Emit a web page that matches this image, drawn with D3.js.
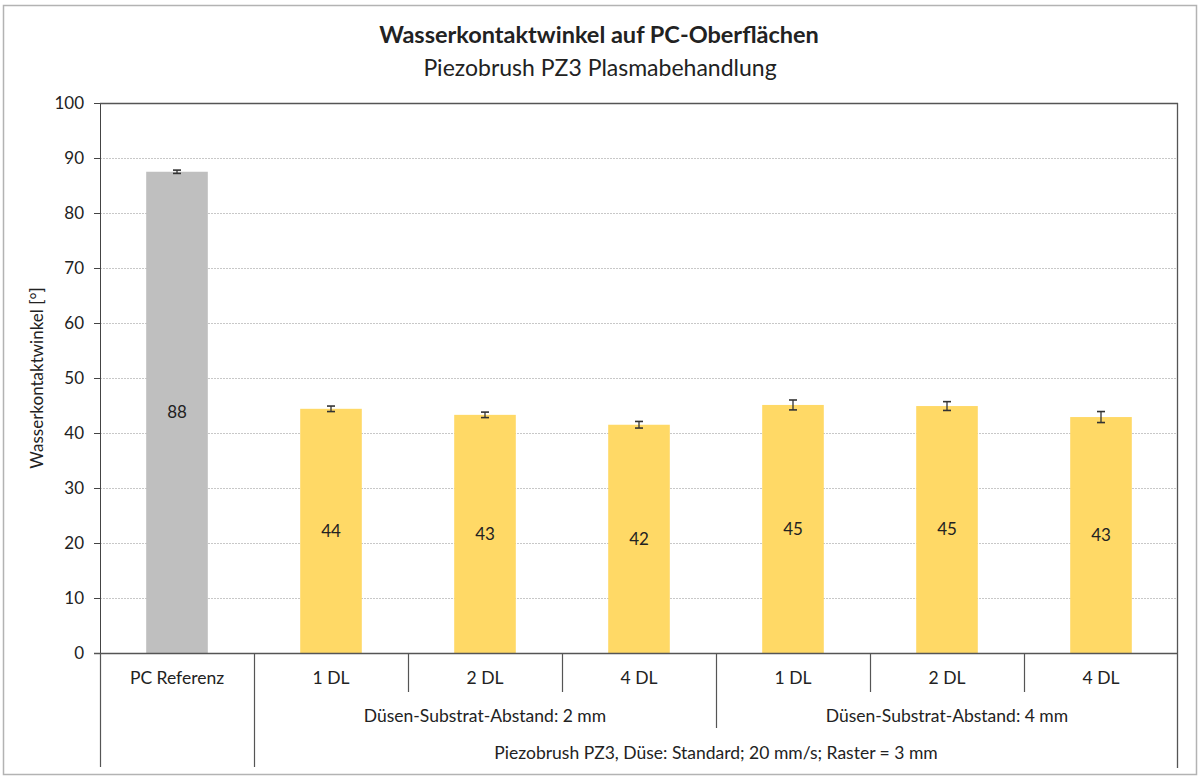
<!DOCTYPE html>
<html>
<head>
<meta charset="utf-8">
<script src="https://cdn.jsdelivr.net/npm/d3@7"></script>
<style>
  body { margin: 0; background: #fff; }
  text { font-family: Lato, "Open Sans", sans-serif; fill: #222; }
</style>
</head>
<body>
<div id="chart"></div>
<script>
// values
const categories = ["PC Referenz", "1 DL", "2 DL", "4 DL", "1 DL", "2 DL", "4 DL"]
const values = [87.5, 44.4, 43.3, 41.5, 45.1, 44.9, 42.9]
const errors = [0.3, 0.5, 0.5, 0.6, 0.9, 0.8, 1.0]
const labels = ["88", "44", "43", "42", "45", "45", "43"]
const colors = ["#bfbfbf", "#ffd966", "#ffd966", "#ffd966", "#ffd966", "#ffd966", "#ffd966"]
// second level: group name and how many categories it spans
const groups = [{name: "", span: 1}, {name: "Düsen-Substrat-Abstand: 2 mm", span: 3}, {name: "Düsen-Substrat-Abstand: 4 mm", span: 3}]
// third level
const outerGroups = [{name: "", span: 1}, {name: "Piezobrush PZ3, Düse: Standard; 20 mm/s; Raster = 3 mm", span: 6}]
const yTicks = [0, 10, 20, 30, 40, 50, 60, 70, 80, 90, 100]

const W = 1200, H = 779
const margin = {top: 103, right: 22, bottom: 126, left: 100}
const width = W - margin.left - margin.right
const height = H - margin.top - margin.bottom

const svg = d3.select("#chart").append("svg")
    .attr("width", W)
    .attr("height", H)

// outer chart frame
svg.append("rect")
    .attr("x", 3.5).attr("y", 5.5)
    .attr("width", 1193).attr("height", 769)
    .attr("fill", "none")
    .attr("stroke", "#b3b3b3")
    .attr("stroke-width", 1.5)

// titles
svg.append("text")
    .attr("x", 599).attr("y", 43)
    .attr("text-anchor", "middle")
    .style("font-size", "23.5px")
    .style("font-weight", "bold")
    .text("Wasserkontaktwinkel auf PC-Oberflächen")
svg.append("text")
    .attr("x", 600).attr("y", 76)
    .attr("text-anchor", "middle")
    .style("font-size", "23px")
    .text("Piezobrush PZ3 Plasmabehandlung")

const g = svg.append("g")
    .attr("transform", "translate(" + margin.left + "," + margin.top + ")")

let x = d3.scaleBand()
    .domain(d3.range(categories.length))
    .range([0, width])
    .paddingInner(0.6)
    .paddingOuter(0.3)
let step = x.step()

let y = d3.scaleLinear()
    .domain([0, 100])
    .range([height, 0])

// gridlines
g.append("g")
    .selectAll("line")
    .data(yTicks.filter(d => d > 0 && d < 100))
    .enter()
    .append("line")
        .attr("x1", 0).attr("x2", width)
        .attr("y1", d => Math.round(y(d)) + 0.5)
        .attr("y2", d => Math.round(y(d)) + 0.5)
        .attr("stroke", "#c8c8c8")
        .attr("stroke-dasharray", "2,1")

// bars
g.append("g")
    .selectAll("rect")
    .data(values)
    .enter()
    .append("rect")
        .attr("x", (d, i) => x(i))
        .attr("y", d => y(d))
        .attr("width", x.bandwidth())
        .attr("height", d => height - y(d))
        .attr("fill", (d, i) => colors[i])

// error bars
let eb = g.append("g")
    .selectAll("g")
    .data(values)
    .enter()
    .append("g")
        .attr("stroke", "#333")
        .attr("stroke-width", 1.3)
eb.append("line")
    .attr("x1", (d, i) => x(i) + x.bandwidth() / 2)
    .attr("x2", (d, i) => x(i) + x.bandwidth() / 2)
    .attr("y1", (d, i) => y(d + errors[i]))
    .attr("y2", (d, i) => y(d - errors[i]))
eb.selectAll(".cap")
    .data((d, i) => [[i, d + errors[i]], [i, d - errors[i]]])
    .enter()
    .append("line")
        .attr("x1", d => x(d[0]) + x.bandwidth() / 2 - 4)
        .attr("x2", d => x(d[0]) + x.bandwidth() / 2 + 4)
        .attr("y1", d => y(d[1]))
        .attr("y2", d => y(d[1]))
        .attr("stroke-width", 1.6)

// value labels in the middle of the bars
g.append("g")
    .selectAll("text")
    .data(values)
    .enter()
    .append("text")
        .attr("x", (d, i) => x(i) + x.bandwidth() / 2)
        .attr("y", d => y(d / 2))
        .attr("dy", "0.35em")
        .attr("text-anchor", "middle")
        .style("font-size", "17px")
        .text((d, i) => labels[i])

// y axis
let yAxis = g.append("g")
    .call(d3.axisLeft(y).tickValues(yTicks).tickSize(6).tickPadding(10))
yAxis.select(".domain").attr("stroke", "#444")
yAxis.selectAll(".tick line").attr("stroke", "#444")
yAxis.selectAll(".tick text")
    .style("font-size", "17px")
    .style("font-family", "Lato, 'Open Sans', sans-serif")
    .attr("fill", "#222")

// plot frame top and right
g.append("line")
    .attr("x1", 0).attr("x2", width).attr("y1", 0.5).attr("y2", 0.5)
    .attr("stroke", "#555").attr("stroke-width", 1.3)
g.append("line")
    .attr("x1", width - 0.5).attr("x2", width - 0.5).attr("y1", 0).attr("y2", H - margin.top - 11)
    .attr("stroke", "#555").attr("stroke-width", 1.3)

// x axis line
g.append("line")
    .attr("x1", -6).attr("x2", width).attr("y1", height + 0.5).attr("y2", height + 0.5)
    .attr("stroke", "#555").attr("stroke-width", 1.3)

// multi-level category axis
const row1 = 39, row2 = 75, row3 = 114
let axisG = g.append("g").attr("transform", "translate(0," + height + ")")

axisG.selectAll(".cat")
    .data(categories)
    .enter()
    .append("text")
        .attr("x", (d, i) => step * (i + 0.5))
        .attr("y", 31)
        .attr("text-anchor", "middle")
        .style("font-size", "17.5px")
        .text(d => d)

// separators between categories of the first row
let starts = []
let pos = 0
groups.forEach(gr => { starts.push(pos); pos += gr.span })
let outerStarts = []
pos = 0
outerGroups.forEach(gr => { outerStarts.push(pos); pos += gr.span })

d3.range(categories.length).forEach(i => {
    let depth = row1
    if (starts.includes(i)) depth = row2
    if (outerStarts.includes(i)) depth = row3
    axisG.append("line")
        .attr("x1", Math.round(step * i) + 0.5)
        .attr("x2", Math.round(step * i) + 0.5)
        .attr("y1", 0).attr("y2", depth)
        .attr("stroke", "#555").attr("stroke-width", 1.2)
})

groups.forEach((gr, k) => {
    axisG.append("text")
        .attr("x", step * (starts[k] + gr.span / 2))
        .attr("y", 69)
        .attr("text-anchor", "middle")
        .style("font-size", "17.5px")
        .text(gr.name)
})
outerGroups.forEach((gr, k) => {
    axisG.append("text")
        .attr("x", step * (outerStarts[k] + gr.span / 2))
        .attr("y", 106)
        .attr("text-anchor", "middle")
        .style("font-size", "17.5px")
        .text(gr.name)
})

// y axis title
svg.append("text")
    .attr("transform", "translate(43,378) rotate(-90)")
    .attr("text-anchor", "middle")
    .style("font-size", "17px")
    .text("Wasserkontaktwinkel [°]")
</script>
</body>
</html>
